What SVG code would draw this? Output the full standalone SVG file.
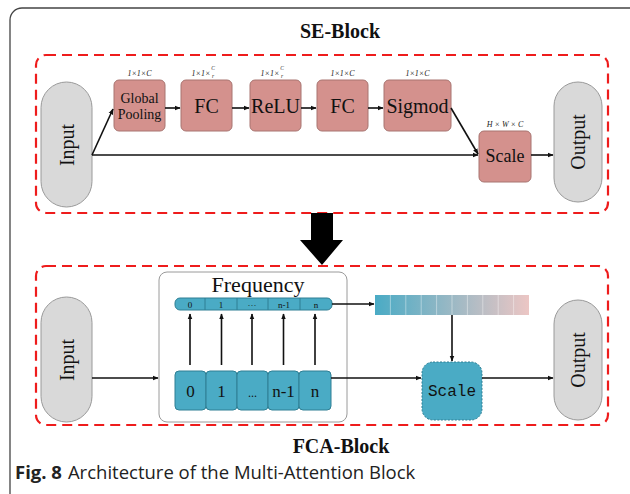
<svg xmlns="http://www.w3.org/2000/svg" width="630" height="494" viewBox="0 0 630 494">
<defs>
<style>
.serif{font-family:"Liberation Serif","Times New Roman",serif;fill:#111}
.red{fill:none;stroke:#ee1c1c;stroke-width:2.2;stroke-dasharray:10,6}
.pill{fill:#d9d9d9;stroke:#9a9a9a;stroke-width:1}
.se{fill:#d4918d;stroke:#a87470;stroke-width:1}
.teal{fill:#4aabc5;stroke:#2e7f94;stroke-width:1}
.ln{stroke:#111;stroke-width:1.6;fill:none}
.dim{font-family:"Liberation Serif",serif;font-style:italic;font-size:8px;fill:#222}
.fr{font-family:"Liberation Serif",serif;font-style:italic;font-size:5.5px;fill:#222}
</style>
<marker id="ah" viewBox="0 0 10 10" refX="9" refY="5" markerWidth="6" markerHeight="6" orient="auto-start-reverse" markerUnits="userSpaceOnUse">
<path d="M0,1 L10,5 L0,9 z" fill="#111"/>
</marker>
<linearGradient id="grad" x1="0" x2="1" y1="0" y2="0">
<stop offset="0" stop-color="#4aabc5"/>
<stop offset="1" stop-color="#ecc6c4"/>
</linearGradient>
</defs>
<rect width="630" height="494" fill="#fff"/>
<rect x="10" y="8" width="640" height="500" rx="12" fill="none" stroke="#444" stroke-width="1.3"/>

<text class="serif" x="340" y="38" font-size="20" font-weight="bold" text-anchor="middle">SE-Block</text>
<rect class="red" x="36" y="55" width="572" height="158" rx="10"/>

<g id="se-input"><rect class="pill" x="41" y="82" width="51" height="125" rx="25.5"/>
<text class="serif" font-size="20" text-anchor="middle" transform="translate(74,145) rotate(-90)">Input</text></g>
<g id="se-gp"><rect class="se" x="114" y="80" width="51" height="51" rx="5"/>
<text class="serif" font-size="14" text-anchor="middle" x="139.5" y="103">Global</text>
<text class="serif" font-size="14" text-anchor="middle" x="139.5" y="119">Pooling</text>
<text class="dim" x="139.5" y="76" text-anchor="middle">1×1×C</text></g>
<g id="se-fc1"><rect class="se" x="181" y="80" width="51" height="51" rx="5"/>
<text class="serif" font-size="20" text-anchor="middle" x="206.5" y="113">FC</text>
<text class="dim" x="201" y="76" text-anchor="middle">1×1×</text><text class="fr" x="213" y="70" text-anchor="middle">C</text><text class="fr" x="213" y="78" text-anchor="middle">r</text></g>
<g id="se-relu"><rect class="se" x="250" y="80" width="51" height="51" rx="5"/>
<text class="serif" font-size="20" text-anchor="middle" x="275.5" y="113">ReLU</text>
<text class="dim" x="270" y="76" text-anchor="middle">1×1×</text><text class="fr" x="282" y="70" text-anchor="middle">C</text><text class="fr" x="282" y="78" text-anchor="middle">r</text></g>
<g id="se-fc2"><rect class="se" x="317" y="80" width="51" height="51" rx="5"/>
<text class="serif" font-size="20" text-anchor="middle" x="342.5" y="113">FC</text>
<text class="dim" x="342.5" y="76" text-anchor="middle">1×1×C</text></g>
<g id="se-sig"><rect class="se" x="384" y="80" width="67" height="51" rx="5"/>
<text class="serif" font-size="20" text-anchor="middle" x="417.5" y="113">Sigmod</text>
<text class="dim" x="417.5" y="76" text-anchor="middle">1×1×C</text></g>
<g id="se-scale"><rect class="se" x="479" y="131" width="52" height="51" rx="5"/>
<text class="serif" font-size="18" text-anchor="middle" x="505" y="162">Scale</text>
<text class="dim" x="505" y="127" text-anchor="middle">H × W × C</text></g>
<g id="se-output"><rect class="pill" x="554" y="82" width="48" height="120" rx="24"/>
<text class="serif" font-size="20" text-anchor="middle" transform="translate(585,142) rotate(-90)">Output</text></g>

<g id="se-connectors">
<line class="ln" x1="92" y1="155" x2="113" y2="109" marker-end="url(#ah)"/>
<line class="ln" x1="92" y1="155" x2="478" y2="155" stroke-width="2" marker-end="url(#ah)"/>
<line class="ln" x1="165" y1="108" x2="180" y2="108" marker-end="url(#ah)"/>
<line class="ln" x1="232" y1="108" x2="249" y2="108" marker-end="url(#ah)"/>
<line class="ln" x1="301" y1="108" x2="316" y2="108" marker-end="url(#ah)"/>
<line class="ln" x1="368" y1="108" x2="383" y2="108" marker-end="url(#ah)"/>
<line class="ln" x1="451" y1="108" x2="478" y2="154" marker-end="url(#ah)"/>
<line class="ln" x1="531" y1="155" x2="553" y2="155" stroke-width="1.2" marker-end="url(#ah)"/>
</g>

<g id="big-arrow"><path d="M311,213 L333,213 L333,240 L343,240 L322,265 L300,240 L311,240 Z" fill="#000"/></g>

<rect class="red" x="36" y="266" width="572" height="159" rx="10"/>
<g id="fca-input"><rect class="pill" x="41" y="297" width="51" height="125" rx="25.5"/>
<text class="serif" font-size="20" text-anchor="middle" transform="translate(74,360) rotate(-90)">Input</text></g>

<g id="frequency"><rect x="159" y="272" width="188" height="150" rx="8" fill="#fff" stroke="#9a9a9a" stroke-width="1"/>
<text class="serif" font-size="22" text-anchor="middle" x="258" y="292">Frequency</text>
<rect class="teal" x="175" y="298" width="157" height="12" rx="5"/>
<g stroke="#2e7f94" stroke-width="1"><line x1="205" y1="298" x2="205" y2="310"/><line x1="237" y1="298" x2="237" y2="310"/><line x1="268" y1="298" x2="268" y2="310"/><line x1="300" y1="298" x2="300" y2="310"/></g>
<g class="serif" font-size="9" text-anchor="middle"><text x="190" y="307.5">0</text><text x="221" y="307.5">1</text><text x="252" y="307.5">···</text><text x="284" y="307.5">n-1</text><text x="316" y="307.5">n</text></g>
<rect class="teal" x="175" y="371" width="31" height="39" rx="4"/>
<rect class="teal" x="206" y="371" width="31" height="39" rx="4"/>
<rect class="teal" x="237" y="371" width="31" height="39" rx="4"/>
<rect class="teal" x="268" y="371" width="31" height="39" rx="4"/>
<rect class="teal" x="299" y="371" width="32" height="39" rx="4"/>
<g class="serif" font-size="17" text-anchor="middle"><text x="190.5" y="397">0</text><text x="221.5" y="397">1</text><text x="252.5" y="397" font-size="12">...</text><text x="283.5" y="397">n-1</text><text x="315" y="397">n</text></g>
</g>

<g id="gradient-bar"><rect x="375" y="295" width="154" height="20" fill="url(#grad)"/>
<g stroke="#fff" stroke-opacity="0.5" stroke-width="0.8"><line x1="390.4" y1="295" x2="390.4" y2="315"/><line x1="405.8" y1="295" x2="405.8" y2="315"/><line x1="421.2" y1="295" x2="421.2" y2="315"/><line x1="436.6" y1="295" x2="436.6" y2="315"/><line x1="452" y1="295" x2="452" y2="315"/><line x1="467.4" y1="295" x2="467.4" y2="315"/><line x1="482.8" y1="295" x2="482.8" y2="315"/><line x1="498.2" y1="295" x2="498.2" y2="315"/><line x1="513.6" y1="295" x2="513.6" y2="315"/></g></g>

<g id="fca-scale"><rect x="422" y="362" width="60" height="58" rx="11" fill="#4aabc5" stroke="#2e7f94" stroke-width="1" stroke-dasharray="2,1.5"/>
<text x="452" y="396" font-family="Liberation Mono,monospace" font-size="16" text-anchor="middle" fill="#111">Scale</text></g>
<g id="fca-output"><rect class="pill" x="554" y="300" width="48" height="120" rx="24"/>
<text class="serif" font-size="20" text-anchor="middle" transform="translate(585,360) rotate(-90)">Output</text></g>

<g id="fca-connectors">
<line class="ln" x1="92" y1="378" x2="158" y2="378" stroke-width="1.4" marker-end="url(#ah)"/>
<line class="ln" x1="190" y1="365" x2="190" y2="314" stroke-width="1.2" marker-end="url(#ah)"/>
<line class="ln" x1="221.5" y1="365" x2="221.5" y2="314" stroke-width="1.2" marker-end="url(#ah)"/>
<line class="ln" x1="252" y1="365" x2="252" y2="314" stroke-width="1.2" marker-end="url(#ah)"/>
<line class="ln" x1="283.5" y1="365" x2="283.5" y2="314" stroke-width="1.2" marker-end="url(#ah)"/>
<line class="ln" x1="315" y1="365" x2="315" y2="314" stroke-width="1.2" marker-end="url(#ah)"/>
<line class="ln" x1="332" y1="304" x2="374" y2="304" stroke-width="1" stroke="#555" marker-end="url(#ah)"/>
<line class="ln" x1="452" y1="315" x2="452" y2="361" stroke-width="1.4" marker-end="url(#ah)"/>
<line class="ln" x1="331" y1="378" x2="421" y2="378" stroke-width="1.4" marker-end="url(#ah)"/>
<line class="ln" x1="482" y1="378" x2="553" y2="378" stroke-width="1.4" marker-end="url(#ah)"/>
</g>

<text class="serif" x="341" y="453" font-size="20" font-weight="bold" text-anchor="middle">FCA-Block</text>
<text x="15" y="479" font-family="Open Sans,Noto Sans,sans-serif" font-size="18.5" fill="#222"><tspan font-weight="bold">Fig. 8</tspan><tspan dx="6">Architecture of the Multi-Attention Block</tspan></text>
</svg>
